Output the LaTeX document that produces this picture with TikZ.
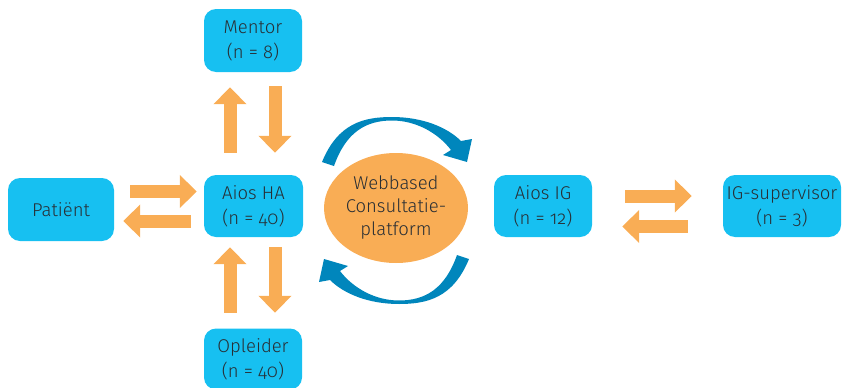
\documentclass[tikz,border=0pt]{standalone}
\usepackage{fontspec}
\setmainfont{Fira Sans Light}[Numbers=OldStyle]
\usetikzlibrary{arrows.meta,calc,shapes.geometric}

\definecolor{boxcyan}{RGB}{23,192,241}
\definecolor{arrorange}{RGB}{249,173,85}
\definecolor{cycleblue}{RGB}{0,134,188}
\definecolor{txtgray}{RGB}{40,46,52}

\tikzset{
  box/.style={rectangle, rounded corners=12pt, fill=boxcyan, draw=none,
    text=txtgray, align=center, inner sep=0pt,
    font=\fontsize{18.5}{25}\selectfont},
  hub/.style={ellipse, fill=arrorange, draw=none, text=txtgray,
    align=center, inner sep=0pt,
    font=\fontsize{18.5}{23}\selectfont},
  barrow/.style={draw=arrorange, line width=13pt,
    -{Triangle[length=17pt,width=32pt]}},
}

\begin{document}
\begin{tikzpicture}[x=1pt,y=-1pt]
  \useasboundingbox (0,0) rectangle (843,388);

  % participant boxes
  \node[box, minimum width=106pt, minimum height=63pt] (pat) at (61,209.5) {Patiënt};
  \node[box, minimum width=99pt, minimum height=62pt] (ha) at (253.5,206) {Aios HA\\(n = 40)};
  \node[box, minimum width=98pt, minimum height=63pt] (mentor) at (253,40.5) {Mentor\\(n = 8)};
  \node[box, minimum width=98pt, minimum height=61pt] (opl) at (253,359) {Opleider\\(n = 40)};
  \node[box, minimum width=98pt, minimum height=62pt] (ig) at (543,206) {Aios IG\\(n = 12)};
  \node[box, minimum width=118pt, minimum height=62pt] (sup) at (782,206) {IG-supervisor\\(n = 3)};

  % central platform
  \node[hub, minimum width=144pt, minimum height=110pt] (web) at (396,208) {Webbased\\Consultatie-\\platform};

  % exchange arrows
  \draw[barrow] ($(ha.north)+(-23.5,-22)$) -- ($(mentor.south)+(-23,15)$);
  \draw[barrow] ($(mentor.south)+(22,14)$) -- ($(ha.north)+(21.5,-22)$);
  \draw[barrow] ($(opl.north)+(-23,-15.5)$) -- ($(ha.south)+(-23.5,10)$);
  \draw[barrow] ($(ha.south)+(21.5,10)$) -- ($(opl.north)+(22,-15.5)$);
  \draw[barrow] ($(pat.east)+(16,-18)$) -- ($(ha.west)+(-7,-14.5)$);
  \draw[barrow] ($(ha.west)+(-13,15)$) -- ($(pat.east)+(9,11.5)$);
  \draw[barrow] ($(ig.east)+(33,-10)$) -- ($(sup.west)+(-31,-10)$);
  \draw[barrow] ($(sup.west)+(-35,20.5)$) -- ($(ig.east)+(30,20.5)$);

  % circular arrows around the platform
  \def\cyclearrow{
    (322,162) .. controls (338,123) and (364,117) .. (392,117)
    .. controls (422,117) and (447,127) .. (461,141)
    -- (472,139) -- (467,162) -- (443,155) -- (451,150)
    .. controls (438,133) and (416,120.5) .. (392,120.5)
    .. controls (366,120.5) and (346,132) .. (334,166) -- cycle}
  \fill[cycleblue] \cyclearrow;
  \fill[cycleblue, rotate around={180:(395.5,210.5)}] \cyclearrow;
\end{tikzpicture}
\end{document}
